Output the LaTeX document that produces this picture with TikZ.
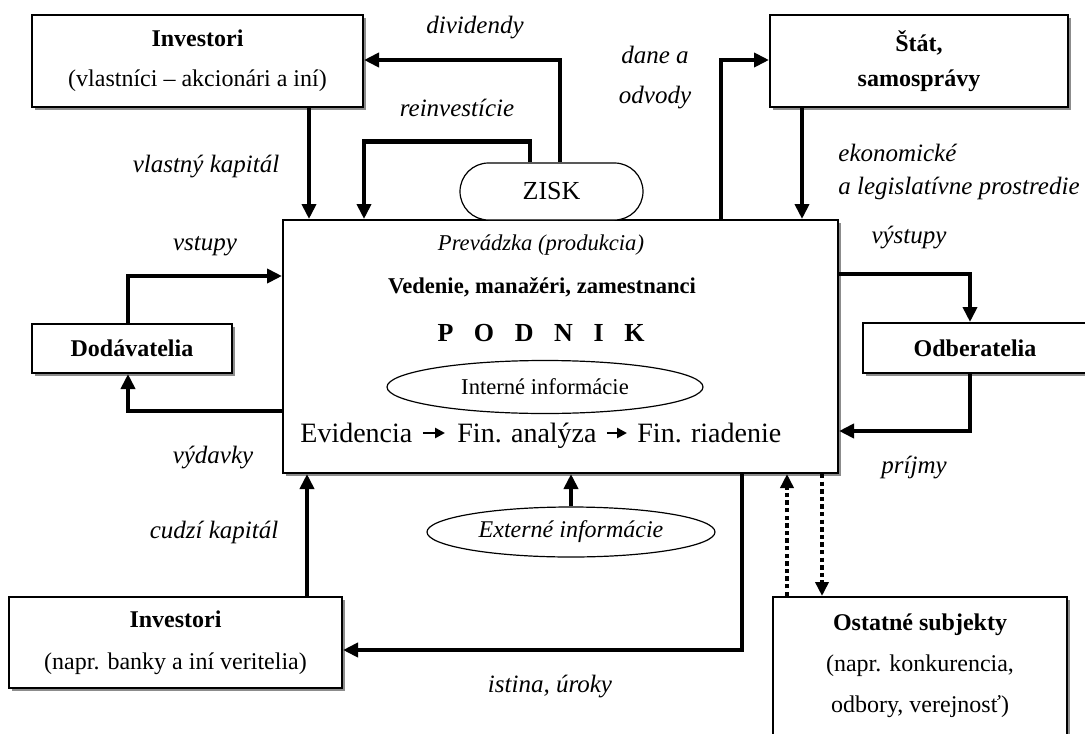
\documentclass[tikz,border=0pt]{standalone}
\usepackage{fontspec}
\setmainfont{Liberation Serif}
\usetikzlibrary{arrows.meta,shapes.geometric,shapes.misc,shadows}
\begin{document}
\begin{tikzpicture}[x=0.5pt,y=-0.5pt,
  box/.style={draw, line width=1pt, fill=white, inner sep=0pt, align=center,
    drop shadow={shadow xshift=1.5pt, shadow yshift=-1.5pt, fill=black!45, opacity=1}},
  arr/.style={line width=2.2pt, -{Triangle[length=7.5pt,width=7pt]}},
  sarr/.style={line width=1.3pt, -{Triangle[length=5pt,width=5pt]}},
  dotarr/.style={line width=2pt, dash pattern=on 2.2pt off 1.6pt, -{Triangle[length=7pt,width=6.5pt]}},
  lab/.style={font=\fontsize{12.5}{15}\selectfont\itshape, inner sep=0pt},
  intext/.style={inner sep=0pt, font=\fontsize{11.3}{13}\selectfont},
  thinshape/.style={draw, line width=0.6pt, fill=white, inner sep=0pt}
]
\useasboundingbox (0,0) rectangle (1085,733);
\clip (0,0) rectangle (1085,733);

% boxes
\node[box, minimum width=165.5pt, minimum height=46pt, font=\fontsize{12}{20}\selectfont] (inv1) at (197.5,61) {\textbf{Investori}\\(vlastníci – akcionári a iní)};
\node[box, minimum width=149pt, minimum height=46pt, font=\fontsize{12}{17.5}\selectfont\bfseries] (stat) at (919,61) {Štát,\\samosprávy};
\node[box, minimum width=277.5pt, minimum height=126.5pt] (podnik) at (560.5,346.5) {};
\node[box, minimum width=100pt, minimum height=24.5pt, font=\fontsize{12}{14}\selectfont\bfseries] (dod) at (132,348.5) {Dodávatelia};
\node[box, minimum width=112pt, minimum height=25pt, font=\fontsize{12}{14}\selectfont\bfseries] (odb) at (975,348) {Odberatelia};
\node[box, minimum width=166.5pt, minimum height=45.5pt, font=\fontsize{12}{21}\selectfont] (inv2) at (175.5,642.5) {\textbf{Investori}\\(napr. banky a iní veritelia)};
\node[box, minimum width=147pt, minimum height=69pt, font=\fontsize{12}{20.5}\selectfont] (ost) at (920,666) {\textbf{Ostatné subjekty}\\(napr. konkurencia,\\odbory, verejnosť)};

% ZISK
\node[thinshape, rounded rectangle, minimum width=91.5pt, minimum height=28.5pt, font=\fontsize{13}{15}\selectfont] (zisk) at (551.5,191.5) {ZISK};

% inside PODNIK
\node[intext, font=\fontsize{11.3}{13}\selectfont\itshape] (prev) at (541,245) {Prevádzka (produkcia)};
\node[intext, font=\fontsize{11.3}{13}\selectfont\bfseries] (ved) at (542,287) {Vedenie, manažéri, zamestnanci};
\node[intext, font=\fontsize{13}{15}\selectfont\bfseries] (pod) at (541,333) {P\hspace{10.3pt}O\hspace{10.3pt}D\hspace{10.3pt}N\hspace{10.3pt}I\hspace{10.3pt}K};
\node[thinshape, ellipse, minimum width=158pt, minimum height=26.5pt, font=\fontsize{11.3}{13}\selectfont] (int) at (545,387) {Interné informácie};
\node[anchor=base west, inner sep=0pt, font=\fontsize{14}{16}\selectfont] (ev) at (300,442) {Evidencia};
\node[anchor=base west, inner sep=0pt, font=\fontsize{14}{16}\selectfont] (fa) at (457,442) {Fin. analýza};
\node[anchor=base west, inner sep=0pt, font=\fontsize{14}{16}\selectfont] (fr) at (637,442) {Fin. riadenie};
\draw[sarr] ([xshift=5pt,yshift=4.5pt]ev.base east) -- ([xshift=-6pt,yshift=4.5pt]fa.base west);
\draw[sarr] ([xshift=5pt,yshift=4.5pt]fa.base east) -- ([xshift=-5pt,yshift=4.5pt]fr.base west);

% external info
\node[thinshape, ellipse, minimum width=144pt, minimum height=25pt, font=\fontsize{12}{14}\selectfont\itshape] (ext) at (571,532) {Externé informácie};

% connectors
\draw[arr] ([xshift=4.25pt]zisk.north) |- ([yshift=0.5pt]inv1.east);
\draw[arr] ([xshift=-10.75pt]zisk.north) -- ++(0,-21) -| ([xshift=41pt]podnik.north west);
\draw[arr] ([xshift=-27.5pt]inv1.south east) -- ([xshift=-27.5pt]inv1.south east |- podnik.north);
\draw[arr] ([xshift=219.5pt]podnik.north west) |- ([yshift=0.5pt]stat.west);
\draw[arr] ([xshift=16.5pt]stat.south west) -- ([xshift=16.5pt]stat.south west |- podnik.north);
\draw[arr] ([yshift=-27.5pt]podnik.north east) -| ([xshift=-2.5pt]odb.north);
\draw[arr] ([xshift=-2.5pt]odb.south) |- ([yshift=-106pt]podnik.north east);
\draw[arr] ([xshift=-2pt]dod.north) |- ([yshift=-28.5pt]podnik.north west);
\draw[arr] ([yshift=-96pt]podnik.north west) -| ([xshift=-2pt]dod.south);
\draw[arr] ([xshift=-18pt]inv2.north east) -- ([xshift=-18pt]inv2.north east |- podnik.south);
\draw[arr] ([xshift=230pt]podnik.south west) |- ([yshift=-3.75pt]inv2.east);
\draw[arr] (ext.north) -- (ext.north |- podnik.south);
\draw[dotarr] ([xshift=7.5pt]ost.north west) -- ([xshift=7.5pt]ost.north west |- podnik.south);
\draw[dotarr] ([xshift=25pt]ost.north west |- podnik.south) -- ([xshift=25pt]ost.north west);

% labels
\node[lab] (ldiv) at (475,28) {dividendy};
\node[lab] (lrein) at (457,108) {reinvestície};
\node[lab, align=center, font=\fontsize{12.5}{20}\selectfont\itshape] (ldane) at (655,78) {dane a\\odvody};
\node[lab] (lvk) at (206,167) {vlastný kapitál};
\node[lab, align=left, anchor=west, font=\fontsize{12.5}{16.5}\selectfont\itshape] (leko) at (838,171.5) {ekonomické\\a legislatívne prostredie};
\node[lab] (lvys) at (909,238) {výstupy};
\node[lab] (lvst) at (205,246) {vstupy};
\node[lab] (lvyd) at (213,458) {výdavky};
\node[lab] (lpri) at (914,468) {príjmy};
\node[lab] (lck) at (214,532) {cudzí kapitál};
\node[lab] (list) at (550,687) {istina, úroky};
\end{tikzpicture}
\end{document}
